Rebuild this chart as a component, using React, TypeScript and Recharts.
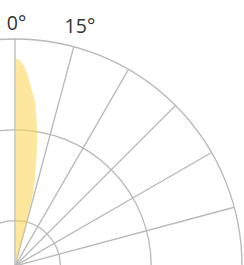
import { PolarAngleAxis, PolarGrid, PolarRadiusAxis, Radar, RadarChart } from "recharts";

// beam angle (deg from vertical) and relative intensity
const angles = [0, 1, 2, 3, 4, 5, 6, 7, 8, 9, 10, 11, 12, 13, 14, 15, 16];
const intensity = [91.5, 91, 89.5, 87, 83.5, 79.5, 76, 72.5, 67, 62, 56, 50, 44, 39, 32, 20, 0];

const angleTicks = [0, 15, 30, 45, 60, 75, 90];
const labeledTicks = [0, 15];
const radiusTicks = [20, 60, 100];

const data = angles.map((angle, i) => ({ angle, value: intensity[i] }));

const CX = 15;
const CY = 266;
const R = 227;

function AngleTick(props: any) {
  const { x, y, payload } = props;
  if (!labeledTicks.includes(payload.value)) return null;
  const dy = payload.value === 0 ? 1.5 : -4;
  return (
    <text
      x={x + 1.5}
      y={y + dy}
      textAnchor="middle"
      dominantBaseline="central"
      fontFamily="'Open Sans', sans-serif"
      fontSize={19.5}
      fill="#333"
    >
      {payload.value}°
    </text>
  );
}

export default function App() {
  return (
    <div style={{ position: "absolute", left: 0, top: 0 }}>
      <RadarChart
        width={244}
        height={265}
        data={data}
        cx={CX}
        cy={CY}
        innerRadius={0}
        outerRadius={R}
        startAngle={90}
        endAngle={0}
        margin={{ top: 0, right: 0, bottom: 0, left: 0 }}
      >
        <defs>
          <clipPath id="quadrant">
            <rect x={CX - 1} y={0} width={244} height={CY} />
          </clipPath>
        </defs>
        <PolarAngleAxis
          dataKey="angle"
          type="number"
          domain={[0, 90]}
          ticks={angleTicks}
          axisLine={false}
          tickLine={false}
          tickSize={18}
          tick={AngleTick}
        />
        <PolarRadiusAxis
          type="number"
          domain={[0, 100]}
          ticks={radiusTicks}
          axisLine={false}
          tick={false}
        />
        <Radar
          dataKey="value"
          fill="#fcd34d"
          fillOpacity={0.55}
          stroke="none"
          dot={false}
          isAnimationActive={false}
        />
        <g clipPath="url(#quadrant)">
          <PolarGrid gridType="circle" stroke="#b8b8b8" strokeWidth={1.3} />
        </g>
      </RadarChart>
    </div>
  );
}
